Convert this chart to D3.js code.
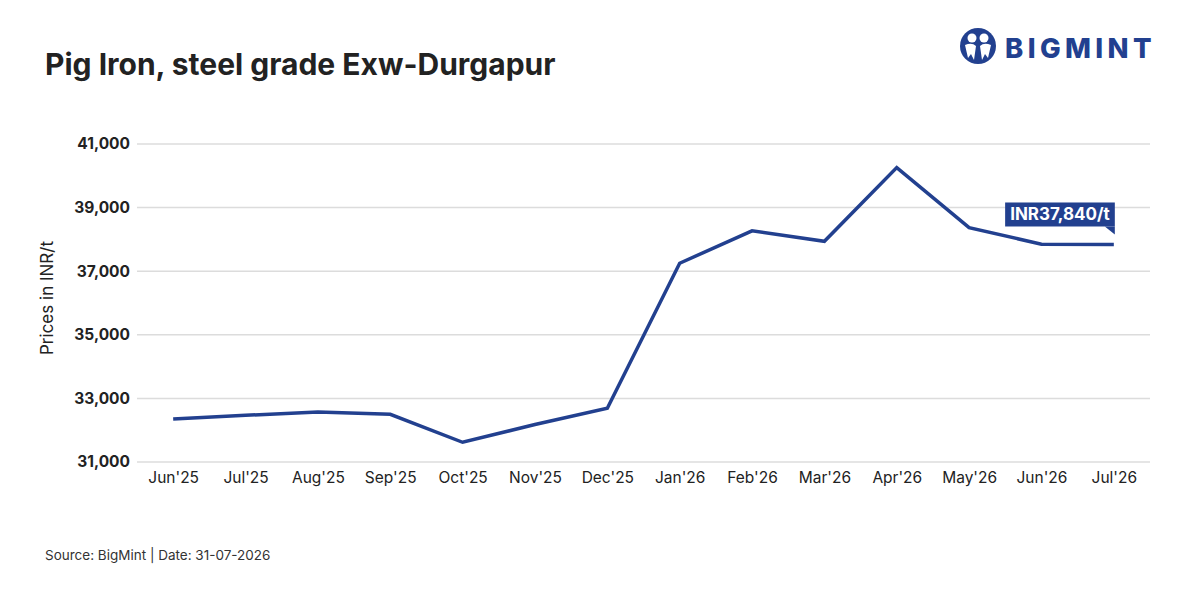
<!DOCTYPE html>
<html>
<head>
<meta charset="utf-8">
<title>Pig Iron, steel grade Exw-Durgapur</title>
<script src="https://cdn.jsdelivr.net/npm/d3@7"></script>
<style>
  body { margin: 0; background: #fff; }
  svg { display: block; }
</style>
</head>
<body>
<div id="chart"></div>
<script>
// data
const months = ["Jun'25", "Jul'25", "Aug'25", "Sep'25", "Oct'25", "Nov'25", "Dec'25",
                "Jan'26", "Feb'26", "Mar'26", "Apr'26", "May'26", "Jun'26", "Jul'26"];
const prices = [32350, 32470, 32570, 32500, 31620, 32180, 32690,
                37250, 38270, 37940, 40260, 38370, 37850, 37840];
const yTicks = [31000, 33000, 35000, 37000, 39000, 41000];

const W = 1200, H = 600;
const blue = "#22408f";
const font = "Inter, 'Noto Sans', sans-serif";

const svg = d3.select("#chart").append("svg")
  .attr("width", W).attr("height", H)
  .attr("font-family", font);

const x = d3.scalePoint().domain(months).range([137, 1150]).padding(0.5);
const y = d3.scaleLinear().domain([31000, 41000]).range([462, 144]);

// title
svg.append("text")
  .attr("x", 45).attr("y", 75)
  .attr("font-size", 30).attr("font-weight", 700)
  .attr("fill", "#222")
  .text("Pig Iron, steel grade Exw-Durgapur");

// logo
const logo = svg.append("g").attr("transform", "translate(978,46)");
logo.append("circle").attr("r", 18).attr("fill", blue);
logo.append("circle").attr("cx", -6).attr("cy", -8).attr("r", 4.5).attr("fill", "#fff");
logo.append("circle").attr("cx", 6).attr("cy", -8).attr("r", 4.5).attr("fill", "#fff");
logo.append("path").attr("d", "M-13,-1 Q-6,-4 -2,0 L-4,14 L-7,8 L-10,12 Z").attr("fill", "#fff");
logo.append("path").attr("d", "M13,-1 Q6,-4 2,0 L4,14 L7,8 L10,12 Z").attr("fill", "#fff");
svg.append("text")
  .attr("x", 1005).attr("y", 58)
  .attr("font-size", 27.5).attr("font-weight", 800)
  .attr("letter-spacing", 4.4)
  .attr("fill", blue)
  .text("BIGMINT");

// grid lines
svg.append("g").selectAll("line")
  .data(yTicks).join("line")
  .attr("x1", 137).attr("x2", 1150)
  .attr("y1", d => y(d)).attr("y2", d => y(d))
  .attr("stroke", "#dcdcdc").attr("stroke-width", 1.5);

// y axis labels
const yAxis = svg.append("g")
  .attr("transform", "translate(130,0)")
  .call(d3.axisLeft(y).tickValues(yTicks).tickSize(0).tickPadding(0).tickFormat(d3.format(",")));
yAxis.select(".domain").remove();
yAxis.selectAll("text")
  .attr("font-family", font).attr("font-size", 15.5).attr("font-weight", 700)
  .attr("fill", "#222");

// x axis labels
const xAxis = svg.append("g")
  .attr("transform", "translate(0,472)")
  .call(d3.axisBottom(x).tickSize(0).tickPadding(0));
xAxis.select(".domain").remove();
xAxis.selectAll("text")
  .attr("font-family", font).attr("font-size", 15.5)
  .attr("fill", "#222");

// y axis title
svg.append("text")
  .attr("transform", "translate(53,298) rotate(-90)")
  .attr("text-anchor", "middle")
  .attr("font-size", 17).attr("fill", "#222")
  .text("Prices in INR/t");

// line
const line = d3.line()
  .x((d, i) => x(months[i]))
  .y(d => y(d));
svg.append("path")
  .datum(prices)
  .attr("d", line)
  .attr("fill", "none")
  .attr("stroke", blue)
  .attr("stroke-width", 3.5)
  .attr("stroke-linejoin", "miter");

// last value callout
const lastI = prices.length - 1;
const lx = x(months[lastI]), ly = y(prices[lastI]);
const label = svg.append("g");
const lt = label.append("text")
  .attr("font-size", 17).attr("font-weight", 700)
  .attr("fill", "#fff")
  .text("INR" + d3.format(",")(prices[lastI]) + "/t");
const tw = lt.node().getComputedTextLength();
const bx = lx + 1 - (tw + 10), by = ly - 42, bh = 24;
label.insert("rect", "text")
  .attr("x", bx).attr("y", by).attr("width", tw + 10).attr("height", bh)
  .attr("fill", blue);
label.insert("path", "text")
  .attr("d", `M${lx - 9},${by + bh} L${lx + 1},${by + bh} L${lx + 1},${by + bh + 8} Z`)
  .attr("fill", blue);
lt.attr("x", bx + 5).attr("y", by + 18);

// source
svg.append("text")
  .attr("x", 45).attr("y", 560)
  .attr("font-size", 13.5).attr("fill", "#333")
  .text("Source: BigMint | Date: 31-07-2026");
</script>
</body>
</html>
